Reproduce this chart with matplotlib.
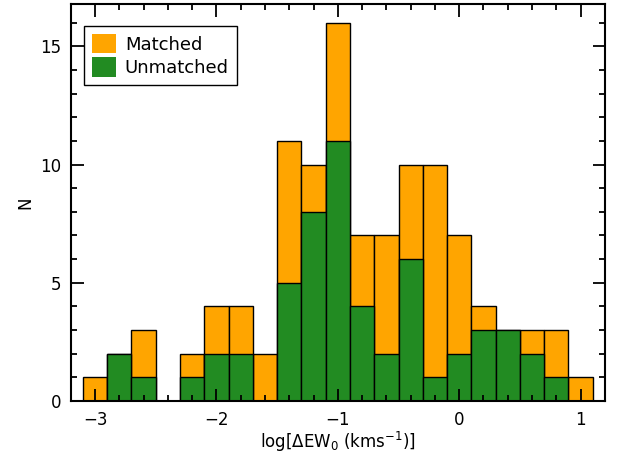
import numpy as np
import matplotlib.pyplot as plt
from matplotlib.patches import Patch
from matplotlib.ticker import MultipleLocator

# Bin centres of log(dEW0), bin width 0.2
bin_centers = [-3.0, -2.8, -2.6, -2.4, -2.2, -2.0, -1.8, -1.6, -1.4, -1.2, -1.0,
               -0.8, -0.6, -0.4, -0.2, 0.0, 0.2, 0.4, 0.6, 0.8, 1.0]
# Counts per bin
unmatched = [0, 2, 1, 0, 1, 2, 2, 0, 5, 8, 11, 4, 2, 6, 1, 2, 3, 3, 2, 1, 0]
matched = [1, 0, 2, 0, 1, 2, 2, 2, 6, 2, 5, 3, 5, 4, 9, 5, 1, 0, 1, 2, 1]
bin_width = 0.2

plt.rcParams['font.family'] = ['DejaVu Sans']

fig = plt.figure(figsize=(6.21, 4.61), dpi=100)
ax = fig.add_axes([0.114, 0.130, 0.860, 0.862])

x = np.array(bin_centers)
total = np.array(unmatched) + np.array(matched)
has = total > 0

# orange full-height bars, green unmatched part in front
ax.bar(x[has], total[has], width=bin_width, color='#FFA500', edgecolor='black', linewidth=1.0)
ax.bar(x[has], np.array(unmatched)[has], width=bin_width, color='#228B22', edgecolor='black', linewidth=1.0)

ax.set_xlim(-3.2, 1.2)
ax.set_ylim(0, 16.8)
ax.xaxis.set_major_locator(MultipleLocator(1))
ax.xaxis.set_minor_locator(MultipleLocator(0.2))
ax.yaxis.set_major_locator(MultipleLocator(5))
ax.yaxis.set_minor_locator(MultipleLocator(1))
ax.tick_params(which='both', direction='in', top=True, right=True, width=1.3)
ax.tick_params(which='major', length=9, labelsize=12, pad=7)
ax.tick_params(which='minor', length=4.5)
for s in ax.spines.values():
    s.set_linewidth(1.5)

ax.set_xlabel(r'log[$\Delta$EW$_0$ (kms$^{-1}$)]', fontsize=12, labelpad=1)
ax.set_ylabel('N', fontsize=12, labelpad=4)

handles = [Patch(facecolor='#FFA500', edgecolor='none', label='Matched'),
           Patch(facecolor='#228B22', edgecolor='none', label='Unmatched')]
leg = ax.legend(handles=handles, loc='upper left', bbox_to_anchor=(0.025, 0.945),
                borderaxespad=0, fancybox=False, edgecolor='black', fontsize=13,
                handlelength=1.3, handleheight=1.3, handletextpad=0.5,
                borderpad=0.45, labelspacing=0.2, framealpha=1)
leg.get_frame().set_linewidth(1.0)

fig.savefig('out.png', dpi=100)
